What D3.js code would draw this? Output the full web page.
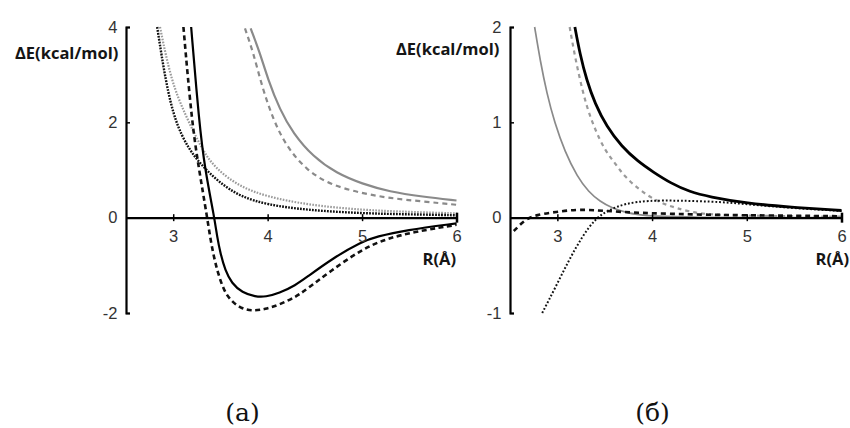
<!DOCTYPE html>
<html><head><meta charset="utf-8">
<script src="https://cdn.jsdelivr.net/npm/d3@7"></script>
<style>
body{margin:0;background:#fff;}
svg{display:block;}
.tick text{font-family:"Liberation Sans",Arial,sans-serif;font-size:16.5px;fill:#333;}
.lab{font-family:"Open Sans",sans-serif;font-weight:700;font-size:16.5px;fill:#151515;}
.cap{font-family:"DejaVu Serif",serif;font-size:25px;fill:#111;}
</style></head>
<body>
<script>
// ---------- Panel (a) data ----------
const aSolidBlackR = [3.19, 3.274, 3.337, 3.436, 3.465, 3.50, 3.55, 3.62, 3.73, 3.87, 3.98, 4.12, 4.30, 4.40, 4.69, 5.0, 5.15, 5.46, 6.0];
const aSolidBlackE = [4.0, 2.0, 1.0, 0, -0.40, -0.75, -1.10, -1.38, -1.57, -1.66, -1.66, -1.59, -1.41, -1.27, -0.85, -0.50, -0.40, -0.26, -0.12];
const aDashBlackR = [3.108, 3.197, 3.274, 3.36, 3.39, 3.43, 3.475, 3.535, 3.605, 3.71, 3.835, 3.975, 4.12, 4.30, 4.40, 4.66, 5.01, 5.36, 6.0];
const aDashBlackE = [4.0, 2.0, 1.0, 0, -0.40, -0.82, -1.17, -1.52, -1.73, -1.90, -1.96, -1.92, -1.83, -1.66, -1.52, -1.13, -0.64, -0.36, -0.15];
const aDotBlackR = [2.83, 2.92, 3.02, 3.16, 3.30, 3.48, 3.71, 4.0, 4.41, 5.0, 5.5, 6.0];
const aDotBlackE = [4.0, 2.85, 2.01, 1.45, 1.10, 0.75, 0.44, 0.27, 0.16, 0.09, 0.07, 0.05];
const aDotGrayR = [2.86, 2.98, 3.13, 3.30, 3.44, 3.71, 4.0, 4.41, 5.0, 5.5, 6.0];
const aDotGrayE = [4.0, 2.85, 2.15, 1.45, 1.04, 0.64, 0.44, 0.27, 0.16, 0.12, 0.09];
const aSolidGrayR = [3.82, 3.92, 4.0, 4.13, 4.27, 4.48, 4.73, 5.0, 5.29, 5.64, 6.0];
const aSolidGrayE = [3.97, 3.45, 2.92, 2.26, 1.77, 1.28, 0.93, 0.71, 0.545, 0.44, 0.36];
const aDashGrayR = [3.76, 3.85, 3.94, 4.06, 4.20, 4.41, 4.66, 5.0, 5.29, 5.64, 6.0];
const aDashGrayE = [3.97, 3.45, 2.75, 2.05, 1.49, 1.0, 0.69, 0.51, 0.41, 0.34, 0.27];
const aYTicks = [4, 2, 0, -2];
const aYTickLabels = ["4", "2", "0", "-2"];

// ---------- Panel (б) data ----------
const bSolidBlackR = [3.185, 3.238, 3.31, 3.396, 3.52, 3.68, 3.85, 4.01, 4.2, 4.4, 4.6, 5.0, 5.46, 6.0];
const bSolidBlackE = [2.0, 1.72, 1.44, 1.20, 0.955, 0.745, 0.59, 0.48, 0.36, 0.27, 0.22, 0.15, 0.11, 0.075];
const bDashGrayR = [3.13, 3.18, 3.24, 3.31, 3.40, 3.50, 3.61, 3.71, 3.88, 4.07, 4.26, 4.49, 5.0, 6.0];
const bDashGrayE = [2.0, 1.72, 1.44, 1.16, 0.92, 0.71, 0.57, 0.43, 0.28, 0.16, 0.10, 0.035, 0.02, 0.01];
const bSolidGrayR = [2.76, 2.82, 2.89, 2.97, 3.08, 3.21, 3.33, 3.45, 3.58, 3.72, 3.86, 4.0, 4.5, 5.0, 6.0];
const bSolidGrayE = [2.0, 1.64, 1.30, 1.0, 0.69, 0.43, 0.27, 0.17, 0.10, 0.055, 0.03, 0.015, 0.003, 0, 0];
const bDashBlackR = [2.54, 2.58, 2.66, 2.78, 2.98, 3.23, 3.51, 3.86, 4.21, 4.6, 5.0, 6.0];
const bDashBlackE = [-0.14, -0.10, -0.02, 0.03, 0.06, 0.09, 0.07, 0.05, 0.04, 0.03, 0.025, 0.015];
const bDotBlackR = [2.84, 2.98, 3.12, 3.26, 3.40, 3.54, 3.72, 3.96, 4.28, 4.75, 5.0, 5.5, 6.0];
const bDotBlackE = [-1.0, -0.73, -0.45, -0.20, -0.01, 0.08, 0.15, 0.18, 0.18, 0.165, 0.14, 0.10, 0.07];
const bYTicks = [2, 1, 0, -1];
const bYTickLabels = ["2", "1", "0", "-1"];

const xTicks = [3, 4, 5, 6];
const xTickLabels = ["3", "4", "5", "6"];
const yLabel = "ΔE(kcal/mol)";
const xLabel = "R(Å)";
const captions = ["(а)", "(б)"];

const W = 850, H = 428;
const svg = d3.select("body").append("svg").attr("width", W).attr("height", H);
svg.append("rect").attr("width", W).attr("height", H).attr("fill", "#fff");

function zip(R, E){ return R.map((r,i)=>({r:r, e:E[i]})); }

function panel(opt){
  const x = d3.scaleLinear().domain([2.5, 6]).range(opt.xr);
  const y = d3.scaleLinear().domain(opt.yd).range([27, 313]);
  const g = svg.append("g");
  const line = d3.line().x(d=>x(d.r)).y(d=>y(d.e)).curve(d3.curveBasis);

  // curves
  opt.series.forEach(s=>{
    g.append("path").datum(zip(s.R, s.E)).attr("d", line)
      .attr("fill","none").attr("stroke", s.color).attr("stroke-width", s.w)
      .attr("stroke-dasharray", s.dash || null).attr("stroke-linecap","butt");
  });

  // y axis
  const ya = d3.axisLeft(y).tickValues(opt.yt).tickFormat((d,i)=>opt.ytl[i])
    .tickSizeInner(-4).tickSizeOuter(-4).tickPadding(8.5);
  const gy = g.append("g").attr("transform", `translate(${opt.xr[0]},0)`).call(ya);
  gy.select(".domain").attr("stroke","#000").attr("stroke-width",2.2);
  gy.selectAll(".tick line").attr("stroke","#000").attr("stroke-width",1.5);

  // x axis
  const xa = d3.axisBottom(x).tickValues(xTicks).tickFormat((d,i)=>xTickLabels[i])
    .tickSizeInner(4).tickSizeOuter(0).tickPadding(10);
  const gx = g.append("g").attr("transform", `translate(0,${y(0)})`).call(xa);
  gx.select(".domain").attr("stroke","#000").attr("stroke-width",2.2);
  gx.selectAll(".tick line").attr("stroke","#000")
    .attr("y1", d=> d===6 ? -5 : -3.5).attr("y2", d=> d===6 ? 5 : 3.5)
    .attr("stroke-width", d=> d===6 ? 2.5 : 1.5);
  gx.selectAll(".tick text").attr("y", 13);

  // labels
  svg.append("text").attr("class","lab").attr("x", opt.ylx).attr("y", opt.yly).text(yLabel);
  svg.append("text").attr("class","lab").attr("x", opt.xlx).attr("y", 265)
    .attr("text-anchor","end").text(xLabel);
  svg.append("text").attr("class","cap").attr("x", opt.capx).attr("y", 421)
    .attr("text-anchor","middle").text(opt.cap);
}

panel({
  xr:[126, 456.5], yd:[4, -2], yt:aYTicks, ytl:aYTickLabels,
  ylx:15, yly:58.5, xlx:456, capx:242.5, cap:captions[0],
  series:[
    {R:aSolidGrayR, E:aSolidGrayE, color:"#8a8a8a", w:2.2},
    {R:aDashGrayR, E:aDashGrayE, color:"#8a8a8a", w:2.2, dash:"5,4"},
    {R:aDotGrayR, E:aDotGrayE, color:"#9a9a9a", w:2.2, dash:"1.6,1.4"},
    {R:aDotBlackR, E:aDotBlackE, color:"#111", w:2.4, dash:"1.8,1.2"},
    {R:aDashBlackR, E:aDashBlackE, color:"#111", w:2.6, dash:"5,3.5"},
    {R:aSolidBlackR, E:aSolidBlackE, color:"#000", w:2.2}
  ]
});

panel({
  xr:[510, 841.5], yd:[2, -1], yt:bYTicks, ytl:bYTickLabels,
  ylx:396, yly:55, xlx:849, capx:652.5, cap:captions[1],
  series:[
    {R:bSolidGrayR, E:bSolidGrayE, color:"#8a8a8a", w:1.7},
    {R:bDashGrayR, E:bDashGrayE, color:"#9a9a9a", w:2.2, dash:"4,4"},
    {R:bDashBlackR, E:bDashBlackE, color:"#111", w:2.6, dash:"5,4"},
    {R:bDotBlackR, E:bDotBlackE, color:"#111", w:2.0, dash:"1.8,2"},
    {R:bSolidBlackR, E:bSolidBlackE, color:"#000", w:2.8}
  ]
});
</script>
</body></html>
